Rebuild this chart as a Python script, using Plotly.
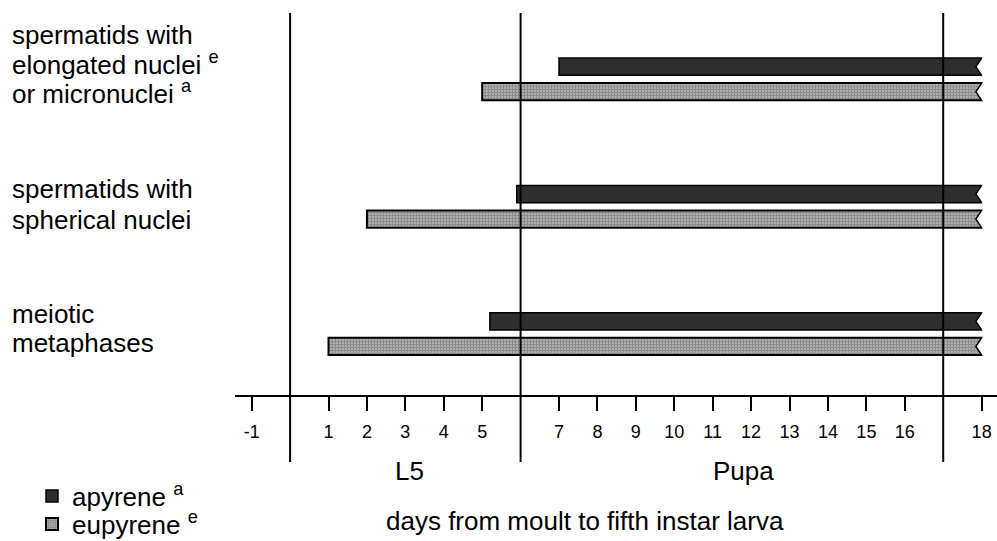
import plotly.graph_objects as go

# ---------------- data ----------------
row_labels = [
    ["spermatids with", "elongated nuclei <sup>e</sup>", "or micronuclei <sup>a</sup>"],
    ["spermatids with", "spherical nuclei"],
    ["meiotic", "metaphases"],
]
row_index = [0, 1, 2]
apyrene_start = [7.0, 5.9, 5.2]
apyrene_end = [18, 18, 18]
eupyrene_start = [5.0, 2.0, 1.0]
eupyrene_end = [18, 18, 18]
tick_days = [-1, 1, 2, 3, 4, 5, 7, 8, 9, 10, 11, 12, 13, 14, 15, 16, 18]
tick_labels = [str(d) for d in tick_days]
stage_boundaries = [0, 6, 17]
stage_names = ["L5", "Pupa"]
stage_label_days = [3.1, 11.8]
series_names = ["apyrene <sup>a</sup>", "eupyrene <sup>e</sup>"]
x_title = "days from moult to fifth instar larva"

# ---------------- layout constants (pixels) ----------------
W, H = 997, 541
PL, PT, PR, PB = 235, 13, 0, 146
plot_w = W - PL - PR
plot_h = H - PT - PB
axis_y_px = PT + plot_h


def py(p):
    return (axis_y_px - p) / plot_h


def px(p):
    return (p - PL) / plot_w


FONT = "Liberation Sans, Arial, Helvetica, sans-serif"
unit = 1 / 127.3            # category units per pixel
bar_w = 17.3 * unit
pitch = 25 * unit
off_a = -pitch / 2 - bar_w / 2
off_e = pitch / 2 - bar_w / 2
notch = 0.15

fig = go.Figure()
fig.add_trace(go.Bar(
    y=row_index, x=[e - s for s, e in zip(apyrene_start, apyrene_end)], base=apyrene_start,
    orientation="h", width=bar_w, offset=off_a, name=series_names[0], legend="legend",
    marker=dict(color="#2e2e2e", line=dict(color="black", width=1.5)),
    hoverinfo="skip",
))
fig.add_trace(go.Bar(
    y=row_index, x=[e - s for s, e in zip(eupyrene_start, eupyrene_end)], base=eupyrene_start,
    orientation="h", width=bar_w, offset=off_e, name=series_names[1], legend="legend2",
    marker=dict(color="white",
                pattern=dict(shape=".", size=3, solidity=0.8, fgcolor="#1a1a1a", bgcolor="white"),
                line=dict(color="black", width=2)),
    hoverinfo="skip",
))

shapes = []
# swallow-tail ends (bars continue beyond the chart)
for off, ends in ((off_a, apyrene_end), (off_e, eupyrene_end)):
    for i, xe in zip(row_index, ends):
        y0, y1 = i + off, i + off + bar_w
        yc = (y0 + y1) / 2
        shapes.append(dict(type="path", xref="x", yref="y", layer="above",
                           path=f"M{xe},{y0} L{xe - notch},{yc} L{xe},{y1} L{xe + 0.3},{y1} L{xe + 0.3},{y0} Z",
                           fillcolor="white", line=dict(width=0)))
        shapes.append(dict(type="path", xref="x", yref="y", layer="above",
                           path=f"M{xe},{y0} L{xe - notch},{yc} L{xe},{y1}",
                           fillcolor="rgba(0,0,0,0)", line=dict(color="black", width=1.5)))
# stage boundary lines
for b in stage_boundaries:
    shapes.append(dict(type="line", xref="x", yref="paper", x0=b, x1=b,
                       y0=py(462), y1=1, line=dict(color="black", width=2)))

annotations = []
label_centers_px = [[35, 64, 92.5], [189, 220], [314, 343]]
for lines, centers in zip(row_labels, label_centers_px):
    for t, c in zip(lines, centers):
        annotations.append(dict(text=t, xref="paper", yref="paper", x=px(10), y=py(c),
                                xanchor="left", yanchor="middle", showarrow=False,
                                font=dict(family=FONT, size=26, color="black")))
for name, d in zip(stage_names, stage_label_days):
    annotations.append(dict(text=name, xref="x", yref="paper", x=d, y=py(471),
                            xanchor="center", yanchor="middle", showarrow=False,
                            font=dict(family=FONT, size=26, color="black")))
annotations.append(dict(text=x_title, xref="paper", yref="paper", x=px(585), y=py(521),
                        xanchor="center", yanchor="middle", showarrow=False,
                        font=dict(family=FONT, size=26, color="black")))

legend_common = dict(xanchor="left", yanchor="middle", bgcolor="rgba(0,0,0,0)",
                     borderwidth=0, font=dict(family=FONT, size=26, color="black"))

fig.update_layout(
    width=W, height=H,
    margin=dict(l=PL, r=PR, t=PT, b=PB, autoexpand=False),
    paper_bgcolor="white", plot_bgcolor="white",
    barmode="overlay",
    showlegend=True,
    legend=dict(x=px(32), y=py(496), **legend_common),
    legend2=dict(x=px(32), y=py(524), **legend_common),
    xaxis=dict(range=[-1.434, 18.40], tickvals=tick_days, ticktext=tick_labels,
               ticks="outside", ticklen=14, tickwidth=2, tickcolor="black",
               showline=True, linewidth=2, linecolor="black",
               showgrid=False, zeroline=False, ticklabelstandoff=5,
               tickfont=dict(family=FONT, size=18, color="black"), fixedrange=True,
               automargin=False),
    yaxis=dict(range=[2.48, -0.52], visible=False, fixedrange=True, automargin=False),
    shapes=shapes,
    annotations=annotations,
)

fig.write_html("out.html", config={"displayModeBar": False},
               post_script="document.body.style.margin='0px';document.body.style.overflow='hidden';")
